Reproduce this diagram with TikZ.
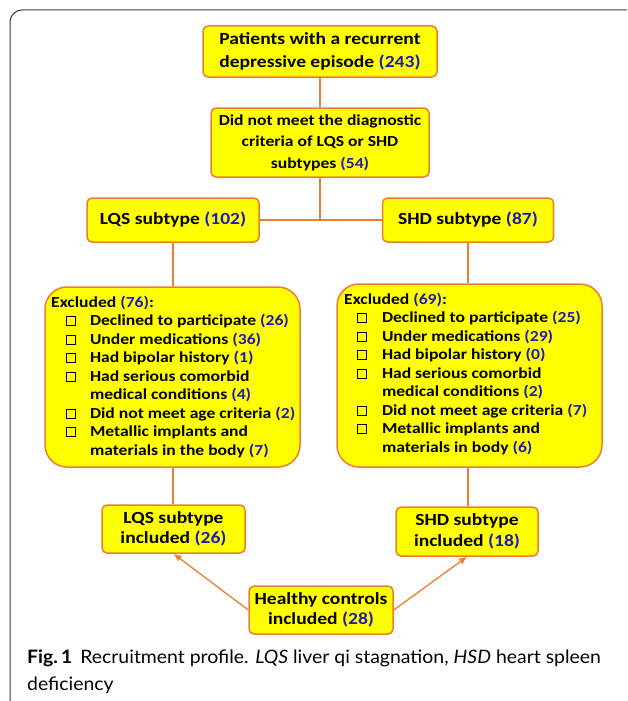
\documentclass[tikz,border=0pt]{standalone}
\usepackage{fontspec}
\setmainfont{Carlito}[FakeStretch=1.15]
\newfontfamily\capfont{Lato}[FakeStretch=1.05]
\usetikzlibrary{arrows.meta}
\definecolor{boxyellow}{RGB}{255,255,0}
\definecolor{boxorange}{RGB}{237,125,49}
\definecolor{numblue}{RGB}{28,28,180}
\definecolor{framegray}{RGB}{60,60,60}
\newcommand\nb[1]{\textcolor{numblue}{#1}}
\newcommand\cbx{\raisebox{0.3pt}{\setlength\fboxsep{0pt}\setlength\fboxrule{0.9pt}\fbox{\rule{0pt}{8pt}\hspace{8pt}}}}
\tikzset{
  box/.style={draw=boxorange, line width=1.5pt, fill=boxyellow, rounded corners=5pt,
    align=center, inner sep=0pt, font=\bfseries\fontsize{17}{21.5}\selectfont},
  bigbox/.style={draw=boxorange, line width=1.5pt, fill=boxyellow, rounded corners=22pt, inner sep=0pt},
  listtext/.style={anchor=base west, inner sep=0pt, font=\bfseries\fontsize{15.3}{18.5}\selectfont},
  link/.style={draw=boxorange, line width=1.3pt},
  arr/.style={link, -{Latex[length=8pt,width=7pt]}}
}
\begin{document}
\begin{tikzpicture}[x=1pt,y=-1pt]
\path[use as bounding box] (0,0) rectangle (627,701);
\begin{scope}
\clip (0,0) rectangle (627,701);
\draw[line width=1pt, draw=framegray, rounded corners=12pt] (640,10) -- (10,10) -- (10,712) -- (640,712);
\end{scope}

% top boxes
\node[box, minimum width=234pt, minimum height=51pt, font=\bfseries\fontsize{17}{23}\selectfont] (p) at (320,51.5) {Patients with a recurrent\\depressive episode \nb{(243)}};
\node[box, minimum width=218pt, minimum height=69pt, font=\bfseries\fontsize{15.3}{21.5}\selectfont] (d) at (320,142.5) {Did not meet the diagnostic\\criteria of LQS or SHD\\subtypes \nb{(54)}};
\node[box, minimum width=172pt, minimum height=44pt] (lqs) at (173,220) {LQS subtype \nb{(102)}};
\node[box, minimum width=171pt, minimum height=44pt] (shd) at (468,220) {SHD subtype \nb{(87)}};

% excluded boxes
\node[bigbox, minimum width=255pt, minimum height=180pt] (exl) at (172.5,377) {};
\node[bigbox, minimum width=265pt, minimum height=183pt] (exr) at (469.5,375.5) {};

\node[listtext] (exlt) at (51,307) {\begin{tabular}[t]{@{}l@{\hspace{14pt}}l@{}}
\multicolumn{2}{@{}l@{}}{Excluded \nb{(76)}:}\\
\hspace*{15pt}\cbx & Declined to participate \nb{(26)}\\
\hspace*{15pt}\cbx & Under medications \nb{(36)}\\
\hspace*{15pt}\cbx & Had bipolar history \nb{(1)}\\
\hspace*{15pt}\cbx & Had serious comorbid\\
 & medical conditions \nb{(4)}\\
\hspace*{15pt}\cbx & Did not meet age criteria \nb{(2)}\\
\hspace*{15pt}\cbx & Metallic implants and\\
 & materials in the body \nb{(7)}
\end{tabular}};

\node[listtext] (exrt) at (344,304) {\begin{tabular}[t]{@{}l@{\hspace{15pt}}l@{}}
\multicolumn{2}{@{}l@{}}{Excluded \nb{(69)}:}\\
\hspace*{13pt}\cbx & Declined to participate \nb{(25)}\\
\hspace*{13pt}\cbx & Under medications \nb{(29)}\\
\hspace*{13pt}\cbx & Had bipolar history \nb{(0)}\\
\hspace*{13pt}\cbx & Had serious comorbid\\
 & medical conditions \nb{(2)}\\
\hspace*{13pt}\cbx & Did not meet age criteria \nb{(7)}\\
\hspace*{13pt}\cbx & Metallic implants and\\
 & materials in body \nb{(6)}
\end{tabular}};

% included boxes
\node[box, minimum width=143pt, minimum height=48pt, font=\bfseries\fontsize{17}{20.5}\selectfont] (lqsi) at (173.5,529) {LQS subtype\\included \nb{(26)}};
\node[box, minimum width=142pt, minimum height=49pt, font=\bfseries\fontsize{17}{20.5}\selectfont] (shdi) at (467,531.5) {SHD subtype\\included \nb{(18)}};
\node[box, minimum width=144pt, minimum height=48pt, font=\bfseries\fontsize{17}{20.5}\selectfont] (hc) at (321,610) {Healthy controls\\included \nb{(28)}};

% connectors
\coordinate (j) at (d.south |- lqs.east);
\draw[link] (p.south) -- (p.south |- d.north);
\draw[link] (d.south) -- (j);
\draw[link] (lqs.east) -- (shd.west);
\draw[link] (lqs.south) -- (lqs.south |- exl.north);
\draw[link] (shd.south) -- (shd.south |- exr.north);
\draw[link] (exl.south -| lqs.south) -- (lqsi.north -| lqs.south);
\draw[link] (exr.south -| shd.south) -- (shdi.north -| shd.south);
\draw[arr] (hc.west) -- (lqsi.south);
\draw[arr] (hc.east) -- (shdi.south);

% caption
\node[anchor=base west, inner sep=0pt, align=left, font=\capfont\fontsize{18.5}{27}\selectfont] (cap) at (27,690)
 {\textbf{Fig.\,1}\hspace{8pt}Recruitment profile. \textit{LQS} liver qi stagnation, \textit{HSD} heart spleen\\deficiency};
\end{tikzpicture}
\end{document}
